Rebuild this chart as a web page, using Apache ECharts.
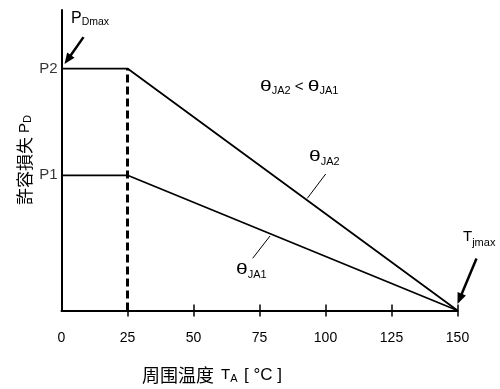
<!DOCTYPE html>
<html><head><meta charset="utf-8">
<script src="https://cdn.jsdelivr.net/npm/echarts@6/dist/echarts.min.js"></script>
<style>html,body{margin:0;padding:0;background:#fff}#c{width:500px;height:389px}</style>
</head><body><div id="c"></div>
<script>
// ---- data ----
const xTicks = [0, 25, 50, 75, 100, 125, 150];
const P2 = 80.5, P1 = 45;           // relative power levels (y max = 100)
const yTickLabels = ['P2', 'P1'];
const yTickValues = [P2, P1];
const kneeX = 25, tjmax = 150;
const thetaJA2 = [[0, P2], [kneeX, P2], [tjmax, 0]];
const thetaJA1 = [[0, P1], [kneeX, P1], [tjmax, 0]];
const kneeLine = [[kneeX, 0], [kneeX, P2]];

const LAT = '"Liberation Sans", Arial, sans-serif';
const chart = echarts.init(document.getElementById('c'), null, {renderer: 'canvas'});
const black = '#000';

const baseX = {
  type: 'value', min: 0, max: 150, interval: 25,
  splitLine: {show: false}
};
chart.setOption({
  animation: false,
  backgroundColor: '#fff',
  grid: {left: 61.5, right: 42.5, top: 10, bottom: 78.5},
  xAxis: [
    Object.assign({}, baseX, {
      position: 'bottom',
      axisLine: {show: true, lineStyle: {color: black, width: 2}},
      axisTick: {show: false},
      axisLabel: {show: true, margin: 21, fontSize: 14, color: black, fontFamily: LAT, customValues: xTicks}
    }),
    Object.assign({}, baseX, {
      position: 'bottom', offset: -6,
      axisLine: {show: false},
      axisTick: {show: true, inside: false, length: 12, lineStyle: {color: black, width: 1.5}, customValues: xTicks.slice(1)},
      axisLabel: {show: false}
    })
  ],
  yAxis: {
    type: 'value', min: 0, max: 100,
    axisLine: {show: true, lineStyle: {color: black, width: 2}},
    axisTick: {show: false}, axisLabel: {show: false}, splitLine: {show: false}
  },
  series: [
    {type: 'line', name: 'θJA2', data: thetaJA2, showSymbol: false, symbol: 'none',
     lineStyle: {color: black, width: 1.8}, z: 3},
    {type: 'line', name: 'θJA1', data: thetaJA1, showSymbol: false, symbol: 'none',
     lineStyle: {color: black, width: 1.8}, z: 3},
    {type: 'line', name: 'knee', data: kneeLine, showSymbol: false, symbol: 'none',
     lineStyle: {color: black, width: 3, type: [8, 4]}, z: 2},
    {type: 'scatter', data: yTickValues.map(v => [0, v]), symbolSize: 2, clip: false,
     itemStyle: {color: 'rgba(0,0,0,0)'}, silent: true,
     label: {show: true, position: 'left', distance: 3, fontSize: 15, color: black, fontFamily: LAT,
             formatter: p => yTickLabels[p.dataIndex]}}
  ]
});

// ---- annotations ----
const cv = document.createElement('canvas').getContext('2d');
function tw(text, size) { cv.font = size + 'px "Liberation Sans"'; return cv.measureText(text).width; }
// segments: [text, isSub, scaleX]
function subText(x, yMid, segs, size, subSize, subDy) {
  const out = [];
  let cx = x;
  segs.forEach(([t, sub, sx]) => {
    const s = sub ? subSize : size;
    sx = sx || 1;
    out.push({type: 'text', z: 10, x: cx, y: yMid + (sub ? subDy : 0), scaleX: sx, style: {
      text: t, x: 0, y: 0, font: s + 'px ' + LAT,
      fill: black, textAlign: 'left', textVerticalAlign: 'middle', verticalAlign: 'middle'}});
    cx += tw(t, s) * sx;
  });
  return out;
}
function arrow(x1, y1, x2, y2) {
  const dx = x2 - x1, dy = y2 - y1, L = Math.hypot(dx, dy);
  const ux = dx / L, uy = dy / L, hl = 11, hw = 4.5;
  const bx = x2 - ux * hl, by = y2 - uy * hl;
  return [
    {type: 'line', z: 10, shape: {x1, y1, x2: bx + ux, y2: by + uy}, style: {stroke: black, lineWidth: 2.5}},
    {type: 'polygon', z: 10, shape: {points: [[x2, y2], [bx - uy * hw, by + ux * hw], [bx + uy * hw, by - ux * hw]]},
     style: {fill: black}}
  ];
}
const pTop = chart.convertToPixel({seriesIndex: 0}, [0, P2]);
const pEnd = chart.convertToPixel({seriesIndex: 0}, [tjmax, 0]);
const TH = 1.4;

let g = [];
g = g.concat(subText(71, 19, [['P', false], ['Dmax', true]], 16, 10.5, 3.5));
g = g.concat(arrow(pTop[0] + 22, pTop[1] - 31.5, pTop[0] + 3, pTop[1] - 4.5));
g = g.concat(subText(463, 236.5, [['T', false], ['jmax', true]], 15, 11, 6));
g = g.concat(arrow(pEnd[0] + 19, pEnd[1] - 52, pEnd[0], pEnd[1] - 6.5));
g = g.concat(subText(260, 86.5, [['θ', false, TH], ['JA2', true], [' < ', false], ['θ', false, TH], ['JA1', true]], 15, 11, 4.5));
g = g.concat(subText(309, 157, [['θ', false, TH], ['JA2', true]], 15, 11, 4.5));
g = g.concat(subText(236, 270, [['θ', false, TH], ['JA1', true]], 15, 11, 4.5));
// leader lines
g.push({type: 'line', z: 10, shape: {x1: 325.7, y1: 174, x2: 307.3, y2: 198.3}, style: {stroke: black, lineWidth: 1}});
g.push({type: 'line', z: 10, shape: {x1: 270, y1: 236, x2: 252.7, y2: 258.3}, style: {stroke: black, lineWidth: 1}});

// x axis name
g.push({type: 'text', z: 10, style: {text: '周围温度', x: 142, y: 375, font: '18px "Noto Sans CJK SC", sans-serif',
  fill: black, textAlign: 'left', verticalAlign: 'middle', textVerticalAlign: 'middle'}});
g = g.concat(subText(221, 375, [['T', false], ['A', true]], 15, 11, 3.5));
g.push({type: 'text', z: 10, style: {text: '[ °C ]', x: 244, y: 375, font: '17px ' + LAT,
  fill: black, textAlign: 'left', verticalAlign: 'middle', textVerticalAlign: 'middle'}});

// y axis name (rotated)
(function () {
  cv.font = '17px "Noto Sans CJK JP"';
  const w1 = cv.measureText('許容損失 ').width;
  const w2 = tw('P', 15), w3 = tw('D', 11);
  const total = w1 + w2 + w3;
  const x0 = -total / 2;
  g.push({type: 'group', x: 24.5, y: 160, rotation: Math.PI / 2, z: 10, children: [
    {type: 'text', style: {text: '許容損失 ', x: x0, y: 0, font: '17px "Noto Sans CJK JP", sans-serif', fill: black, textAlign: 'left', verticalAlign: 'middle', textVerticalAlign: 'middle'}},
    {type: 'text', style: {text: 'P', x: x0 + w1, y: 0, font: '15px ' + LAT, fill: black, textAlign: 'left', verticalAlign: 'middle', textVerticalAlign: 'middle'}},
    {type: 'text', style: {text: 'D', x: x0 + w1 + w2, y: 3.5, font: '11px ' + LAT, fill: black, textAlign: 'left', verticalAlign: 'middle', textVerticalAlign: 'middle'}}
  ]});
})();

chart.setOption({graphic: g});
</script>
</body></html>
